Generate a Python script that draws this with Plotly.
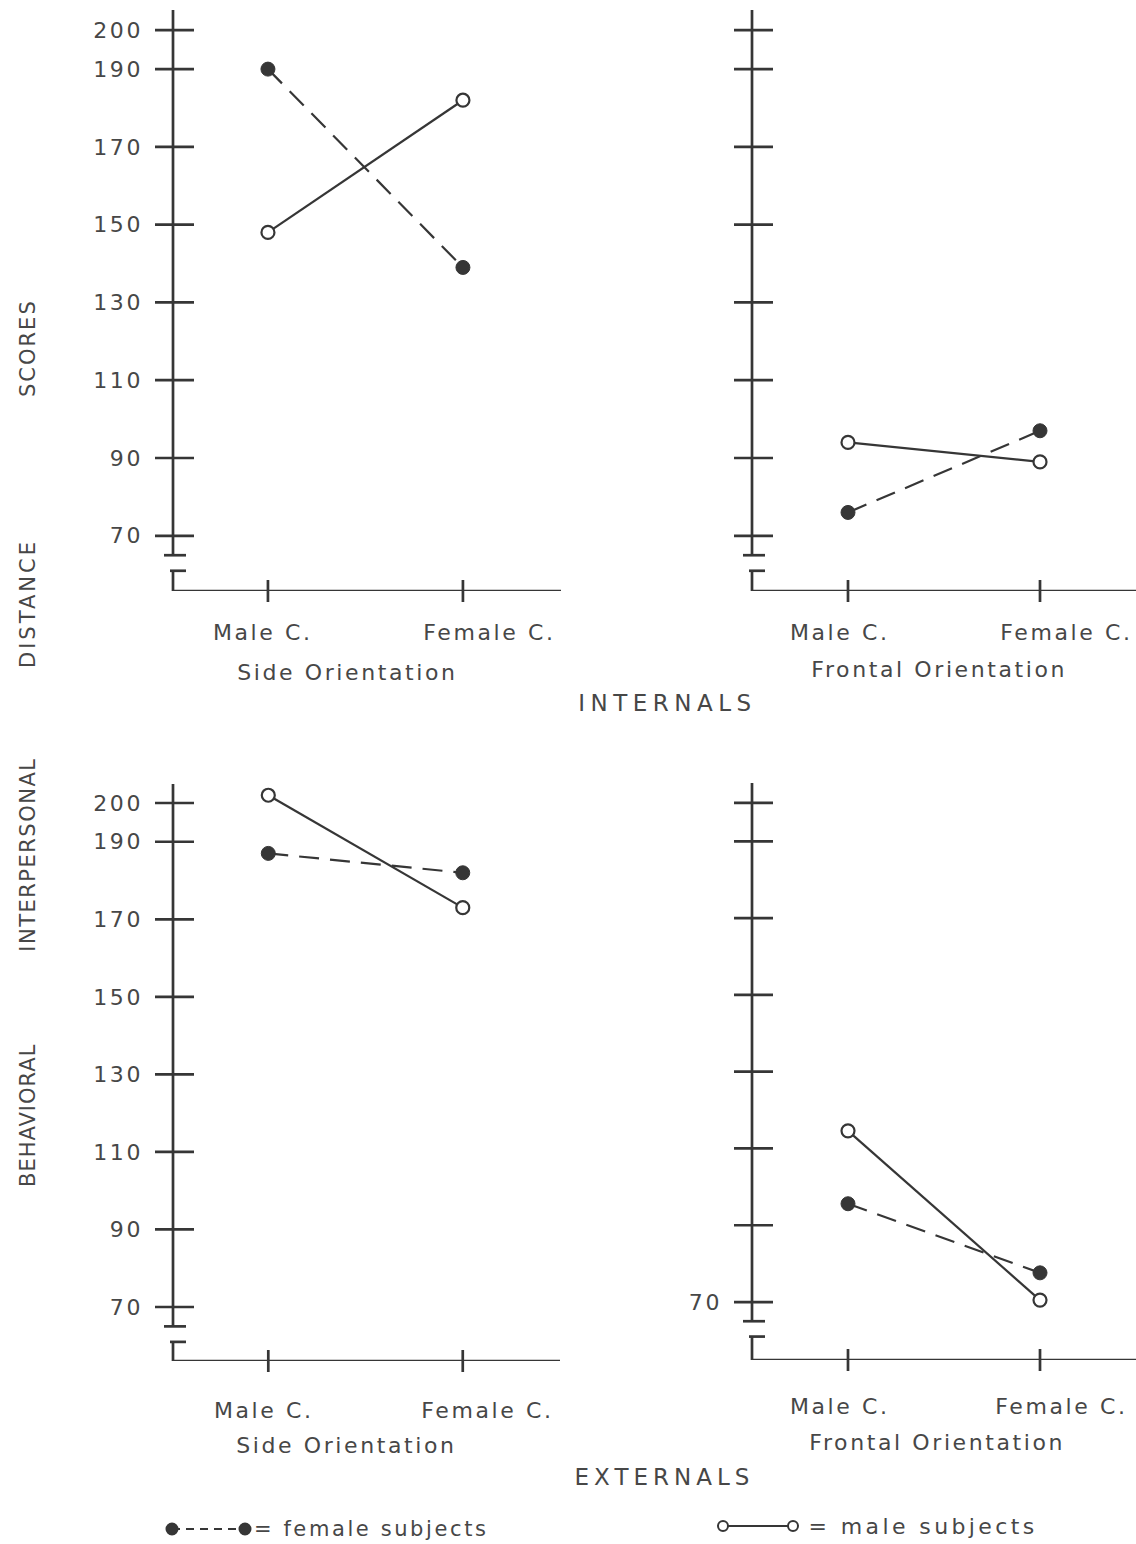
import plotly.graph_objects as go

W, H = 1136, 1544
INK = "#363636"
TXT = "#474747"
FONT = "DejaVu Sans"

# ---------------- data ----------------
categories = ["Male C.", "Female C."]
cat_pos = [0, 1]

side_int_female = [190, 139]
side_int_male = [148, 182]
front_int_female = [76, 97]
front_int_male = [94, 89]
side_ext_female = [187, 182]
side_ext_male = [202, 173]
front_ext_female = [95.6, 77.6]
front_ext_male = [114.6, 70.5]

ytick_vals = [200, 190, 170, 150, 130, 110, 90, 70]
ytick_text = ["200", "190", "170", "150", "130", "110", "90", "70"]
ytick_text_br = ["", "", "", "", "", "", "", "70"]
break_hi = 65
break_lo = 61

# ---------------- panel layout (pixels) ----------------
panels = [
    dict(ax=173, xend=561, yb=591, yt=10, yr=[55.8, 205.2], xr=[-0.487, 1.503],
         fem=side_int_female, mal=side_int_male, ylab=ytick_text,
         lab_y=632, lab_shift=[-5, 27], sub="Side Orientation", sub_x=347, sub_y=672),
    dict(ax=752, xend=1136, yb=591, yt=10, yr=[55.8, 205.2], xr=[-0.5, 1.5],
         fem=front_int_female, mal=front_int_male, ylab=None,
         lab_y=632, lab_shift=[-9, 26], sub="Frontal Orientation", sub_x=939, sub_y=669),
    dict(ax=173, xend=560, yb=1361, yt=784, yr=[56.07, 204.9], xr=[-0.49, 1.5],
         fem=side_ext_female, mal=side_ext_male, ylab=ytick_text,
         lab_y=1410, lab_shift=[-5, 25], sub="Side Orientation", sub_x=346, sub_y=1445),
    dict(ax=752, xend=1136, yb=1360, yt=783, yr=[54.9, 205.2], xr=[-0.5, 1.5],
         fem=front_ext_female, mal=front_ext_male, ylab=ytick_text_br,
         lab_y=1406, lab_shift=[-9, 21], sub="Frontal Orientation", sub_x=937, sub_y=1442),
]

def px(x):
    return x / W

def py(y):
    return 1 - y / H

fig = go.Figure()
shapes = []
annotations = []

for i, p in enumerate(panels):
    n = "" if i == 0 else str(i + 1)
    xa, ya = "x" + n, "y" + n
    fig.add_trace(go.Scatter(
        x=cat_pos, y=p["fem"], xaxis=xa, yaxis=ya, mode="lines+markers",
        line=dict(color=INK, width=2.2, dash="20px,11px"),
        marker=dict(symbol="circle", size=14, color=INK, line=dict(color=INK, width=1)),
        showlegend=False, hoverinfo="skip"))
    fig.add_trace(go.Scatter(
        x=cat_pos, y=p["mal"], xaxis=xa, yaxis=ya, mode="lines+markers",
        line=dict(color=INK, width=2.2),
        marker=dict(symbol="circle", size=13, color="white", line=dict(color=INK, width=2.2)),
        showlegend=False, hoverinfo="skip"))

    xdom = [px(p["ax"]), min(1.0, px(p["xend"]))]
    ydom = [py(p["yb"]), py(p["yt"])]
    fig.update_layout(**{
        ("xaxis" + n): dict(domain=xdom, range=p["xr"], anchor=ya, showgrid=False,
                             zeroline=False, showline=False, showticklabels=False,
                             ticks="", fixedrange=True),
        ("yaxis" + n): dict(domain=ydom, range=p["yr"], anchor=xa, showgrid=False,
                             zeroline=False, showline=False, ticks="",
                             tickvals=ytick_vals,
                             ticktext=p["ylab"] if p["ylab"] else ytick_vals,
                             showticklabels=p["ylab"] is not None,
                             ticklabelstandoff=29,
                             tickfont=dict(family=FONT, size=22, color=TXT),
                             fixedrange=True),
    })

    axx = p["ax"]
    lw = 2.7
    shapes.append(dict(type="line", xref="paper", yref=ya, x0=px(axx), x1=px(axx),
                       y0=break_hi, y1=p["yr"][1], line=dict(color=INK, width=lw)))
    shapes.append(dict(type="line", xref="paper", yref=ya, x0=px(axx - 9), x1=px(axx + 13),
                       y0=break_hi, y1=break_hi, line=dict(color=INK, width=lw)))
    shapes.append(dict(type="line", xref="paper", yref=ya, x0=px(axx - 3), x1=px(axx + 13),
                       y0=break_lo, y1=break_lo, line=dict(color=INK, width=lw)))
    shapes.append(dict(type="line", xref="paper", yref=ya, x0=px(axx), x1=px(axx),
                       y0=break_lo, y1=p["yr"][0], line=dict(color=INK, width=lw)))
    shapes.append(dict(type="line", xref="paper", yref=ya, x0=px(axx), x1=xdom[1],
                       y0=p["yr"][0], y1=p["yr"][0], line=dict(color=INK, width=lw)))
    for v in ytick_vals:
        shapes.append(dict(type="line", xref="paper", yref=ya, x0=px(axx - 18), x1=px(axx + 21),
                           y0=v, y1=v, line=dict(color=INK, width=lw)))
    for c in cat_pos:
        shapes.append(dict(type="line", xref=xa, yref="paper", x0=c, x1=c,
                           y0=py(p["yb"] + 11), y1=py(p["yb"] - 11),
                           line=dict(color=INK, width=lw)))
    for c, lab, sh in zip(cat_pos, categories, p["lab_shift"]):
        annotations.append(dict(x=c, y=py(p["lab_y"]), xref=xa, yref="paper", text=lab,
                                showarrow=False, xshift=sh, xanchor="center", yanchor="middle",
                                font=dict(family=FONT, size=22, color=TXT)))
    annotations.append(dict(x=px(p["sub_x"]), y=py(p["sub_y"]), xref="paper", yref="paper",
                            text=p["sub"], showarrow=False, xanchor="center", yanchor="middle",
                            font=dict(family=FONT, size=22, color=TXT)))

for txt, cx, cy in [("INTERNALS", 667, 703), ("EXTERNALS", 664, 1477)]:
    annotations.append(dict(x=px(cx), y=py(cy), xref="paper", yref="paper", text=txt,
                            showarrow=False, xanchor="center", yanchor="middle",
                            font=dict(family=FONT, size=23, color=TXT)))

for txt, cy in [("SCORES", 348), ("DISTANCE", 603), ("INTERPERSONAL", 855), ("BEHAVIORAL", 1115)]:
    annotations.append(dict(x=px(28), y=py(cy), xref="paper", yref="paper", text=txt,
                            textangle=-90, showarrow=False, xanchor="center", yanchor="middle",
                            font=dict(family=FONT, size=21, color=TXT)))

# key
ky = 1529
def dot(cx, cy, r, fill):
    return dict(type="circle", xref="paper", yref="paper",
                x0=px(cx - r), x1=px(cx + r), y0=py(cy + r), y1=py(cy - r),
                fillcolor=fill, line=dict(color=INK, width=2))

shapes.append(dict(type="line", xref="paper", yref="paper", x0=px(172), x1=px(245),
                   y0=py(ky), y1=py(ky), line=dict(color=INK, width=2, dash="8px,6px")))
shapes.append(dot(172, ky, 5.5, INK))
shapes.append(dot(245, ky, 5.5, INK))
annotations.append(dict(x=px(371), y=py(ky), xref="paper", yref="paper",
                        text="= female subjects", showarrow=False, xanchor="center",
                        yanchor="middle", font=dict(family=FONT, size=21, color=TXT)))
ky2 = 1526
shapes.append(dict(type="line", xref="paper", yref="paper", x0=px(723), x1=px(793),
                   y0=py(ky2), y1=py(ky2), line=dict(color=INK, width=2)))
shapes.append(dot(723, ky2, 5, "white"))
shapes.append(dot(793, ky2, 5, "white"))
annotations.append(dict(x=px(923), y=py(ky2), xref="paper", yref="paper",
                        text="= male subjects", showarrow=False, xanchor="center",
                        yanchor="middle", font=dict(family=FONT, size=22, color=TXT)))

fig.update_layout(width=W, height=H, margin=dict(l=0, r=0, t=0, b=0),
                  paper_bgcolor="white", plot_bgcolor="white",
                  shapes=shapes, annotations=annotations, showlegend=False)

post = """
document.body.style.margin = '0';
document.body.style.padding = '0';
var sp = {'INTERNALS': 5.5, 'EXTERNALS': 5, 'SCORES': 2, 'DISTANCE': 3,
          'INTERPERSONAL': 1.5, 'BEHAVIORAL': 1,
          '= female subjects': 2.6, '= male subjects': 3.4};
var gd = document.getElementById('{plot_id}');
gd.querySelectorAll('text').forEach(function(t) {
    var s = sp[t.textContent];
    if (s === undefined) { s = 2.6; }
    t.style.letterSpacing = s + 'px';
});
"""
fig.write_html("out.html", post_script=post, config={"displayModeBar": False})
